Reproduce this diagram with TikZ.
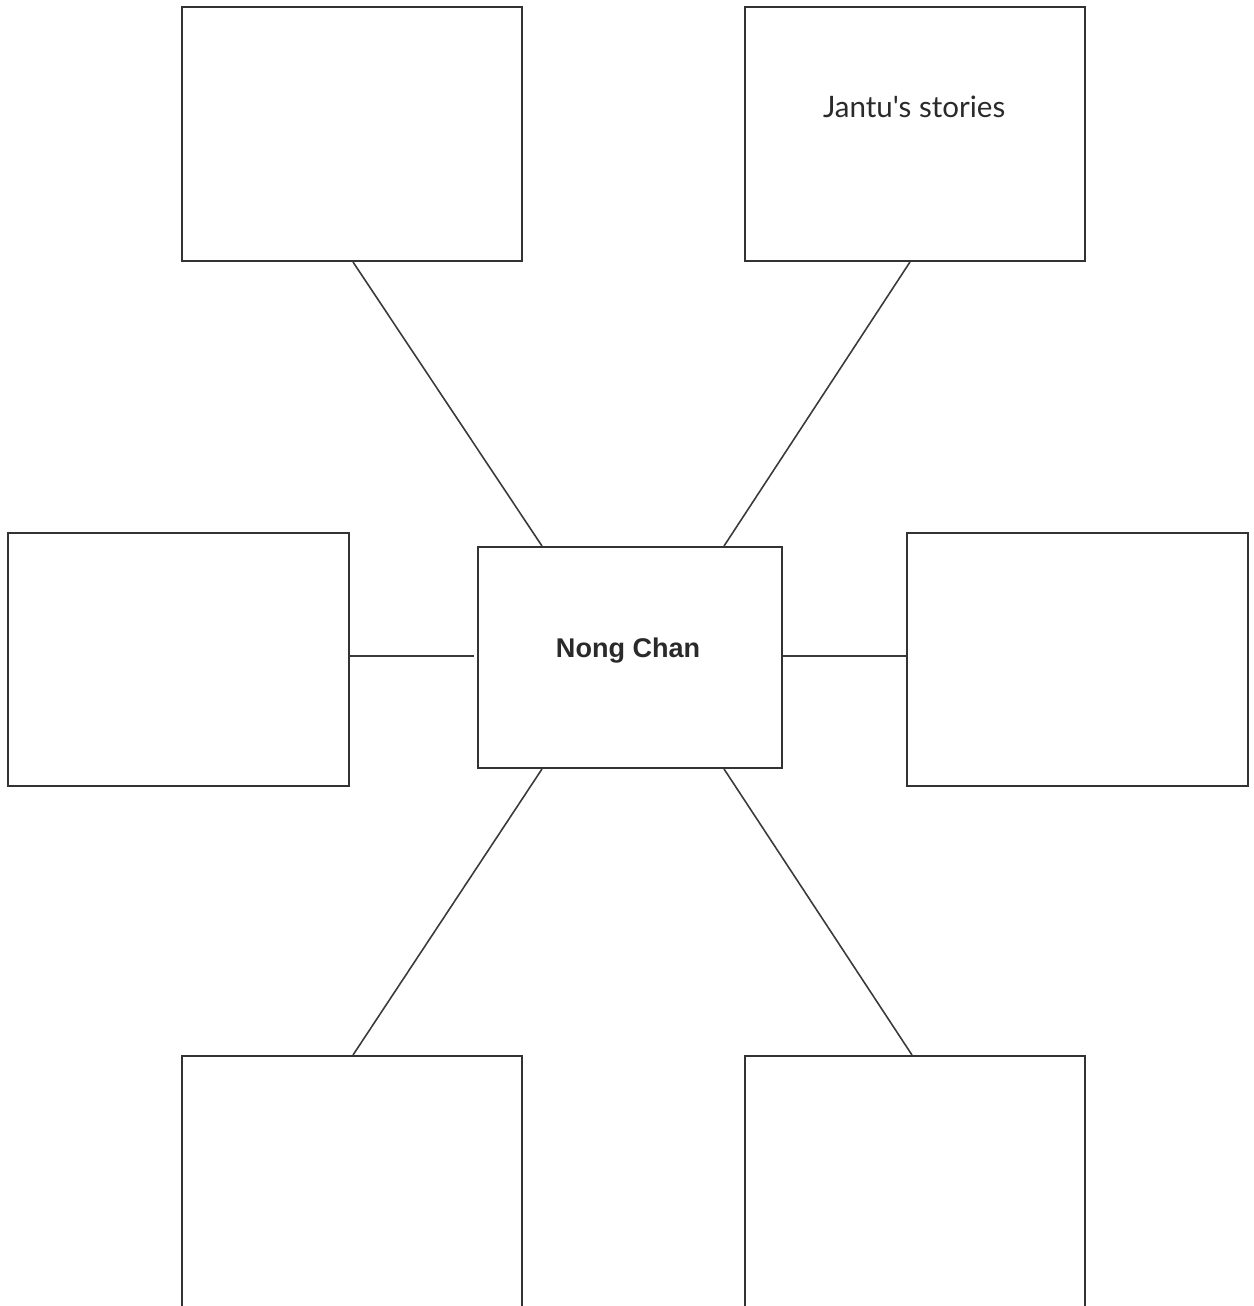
\documentclass[tikz,border=0pt]{standalone}
\usepackage{fontspec}
\setsansfont{Liberation Sans}
\newfontfamily\handfont{Lato}
\usepackage{tikz}
\usetikzlibrary{positioning,calc}
\usepackage{xcolor}
\definecolor{boxline}{HTML}{333333}
\definecolor{spokegray}{HTML}{3A3A3A}
\definecolor{inkgray}{HTML}{2A2A2A}

\begin{document}
\begin{tikzpicture}[
  font=\sffamily,
  topicbox/.style={
    draw=boxline,
    fill=white,
    line width=0.55pt,
    minimum width=3.40cm,
    minimum height=2.54cm,
    inner sep=0pt,
    align=center
  },
  hubbox/.style={
    topicbox,
    minimum width=3.04cm,
    minimum height=2.21cm
  },
  spoke/.style={
    draw=spokegray,
    line width=0.45pt
  }
]
  \useasboundingbox (0,0) rectangle (12.53,-13.06);

  % -------------------------------------------------------------
  % HUB
  % -------------------------------------------------------------
  \node[hubbox] (hub) at (6.30, -6.575) {
    \hspace*{0.06cm}\raisebox{0.19cm}{\fontsize{7.7}{9}\selectfont\bfseries\color{inkgray} Nong Chan}
  };

  % -------------------------------------------------------------
  % OUTER BOXES
  % -------------------------------------------------------------
  \node[topicbox] (tl) at (3.52, -1.34) {};
  \node[topicbox] (tr) at (9.15, -1.34) {
    \hspace*{0.08cm}\raisebox{0.55cm}{\handfont\fontsize{8.4}{10}\selectfont\color{inkgray} Jantu's stories}
  };
  \node[topicbox, minimum width=3.41cm, minimum height=2.53cm] (ml) at (1.785, -6.595) {};
  \node[topicbox, minimum width=3.41cm, minimum height=2.53cm] (mr) at (10.775, -6.595) {};
  \node[topicbox] (bl) at (3.52, -11.83) {};
  \node[topicbox] (br) at (9.15, -11.83) {};

  % -------------------------------------------------------------
  % SPOKES
  % -------------------------------------------------------------
  \draw[spoke] ($(tl.south)+(0.01,0)$) -- ($(hub.north)+(-0.88,0)$);
  \draw[spoke] ($(tr.south)+(-0.05,0)$) -- ($(hub.north)+(0.94,0)$);
  \draw[spoke] ($(ml.east |- hub.west)+(0,0.015)$) -- ($(hub.west)+(-0.03,0.015)$);
  \draw[spoke] ($(hub.east)+(0,0.015)$) -- ($(mr.west |- hub.east)+(0,0.015)$);
  \draw[spoke] ($(hub.south)+(-0.88,0)$) -- ($(bl.north)+(0.01,0)$);
  \draw[spoke] ($(hub.south)+(0.94,0)$) -- ($(br.north)+(-0.03,0)$);

\end{tikzpicture}
\end{document}
